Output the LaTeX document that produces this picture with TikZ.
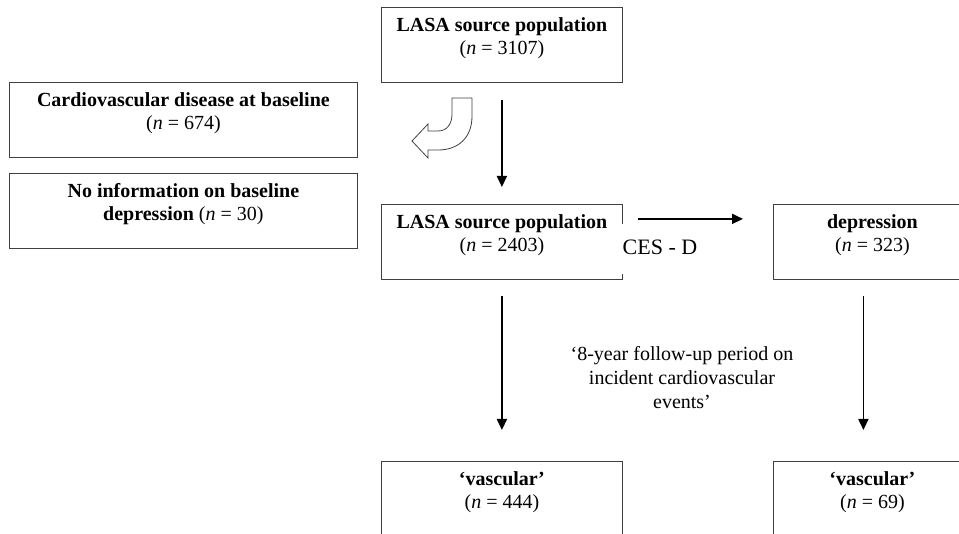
\documentclass[tikz,border=0pt]{standalone}
\usepackage{fontspec}
\setmainfont{Liberation Serif}
\usepackage{tikz}
\usetikzlibrary{arrows.meta}
\tikzstyle{box}=[draw=black!75, line width=0.8pt, anchor=north west, inner sep=0pt, align=center, text height=47pt, text depth=28pt, font=\fontsize{20}{23}\selectfont]
\tikzstyle{arr}=[-{Triangle[width=10pt,length=11pt]}, line width=1.8pt]
\tikzstyle{plain}=[align=center, font=\fontsize{20}{24}\selectfont]

\begin{document}
\begin{tikzpicture}[x=1pt, y=-1pt]
\useasboundingbox (0, 0) rectangle (959, 534);
\clip (0, 0) rectangle (959, 534);
\node[box, minimum width=241pt] at (381, 7) (src) {\textbf{LASA source population}\\(\textit{n} = 3107)};
\node[box, minimum width=348pt] at (9, 82) (cvd) {\textbf{Cardiovascular disease at baseline}\\(\textit{n} = 674)};
\node[box, minimum width=348pt] at (9, 173) (noinfo) {\textbf{No information on baseline}\\\textbf{depression} (\textit{n} = 30)};
\node[box, minimum width=241pt] at (381, 204) (pop) {\textbf{LASA source population}\\(\textit{n} = 2403)};
\node[box, minimum width=198pt] at (773, 204) (dep) {\textbf{depression}\\(\textit{n} = 323)};
\node[box, minimum width=241pt] at (381, 461) (vasc) {\textbf{‘vascular’}\\(\textit{n} = 444)};
\node[box, minimum width=198pt] at (773, 461) (vascdep) {\textbf{‘vascular’}\\(\textit{n} = 69)};
\node[fill=white, anchor=base, inner sep=3pt, text height=28pt, text depth=16pt, font=\fontsize{22}{26}\selectfont] at (660, 255) (cesd) {CES - D};
\node[plain, anchor=north] at (682, 343) (fu) {‘8-year follow-up period on\\incident cardiovascular\\events’};
\draw[arr, shorten <=17pt, shorten >=17pt] (src) -- (pop);
\draw[arr, shorten <=16pt, shorten >=31pt] (pop) -- (vasc);
\draw[arr, shorten <=16pt, shorten >=31pt] ([xshift=-9pt]dep.south) -- ([xshift=-9pt]vascdep.north);
\draw[arr, shorten <=15pt, shorten >=30pt] ([yshift=23pt]pop.east) -- ([yshift=23pt]dep.west);
\draw[line width=0.8pt, black!75] (452, 98) -- (472, 98) -- (472, 116) .. controls (472, 138) and (458, 150) .. (438, 150) -- (428, 150) -- (428, 158) -- (412, 141) -- (428, 124) -- (428, 131) -- (438, 131) .. controls (447, 131) and (452, 124) .. (452, 114) -- cycle;
\end{tikzpicture}
\end{document}
